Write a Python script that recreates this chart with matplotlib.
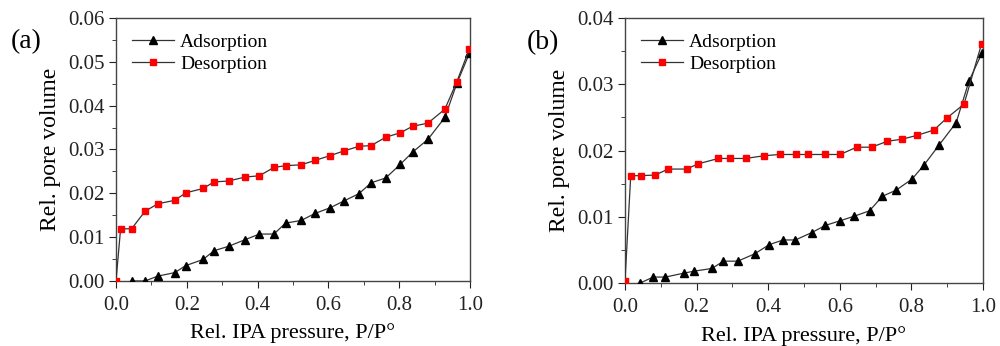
import matplotlib
matplotlib.use('Agg')
import matplotlib.pyplot as plt
from matplotlib.ticker import MultipleLocator, FormatStrFormatter

plt.rcParams['font.family'] = ['Liberation Serif', 'DejaVu Serif']

# panel (a)
a_ads_x = [0.046, 0.082, 0.118, 0.166, 0.197, 0.246, 0.277, 0.318, 0.364, 0.405, 0.446, 0.479,
           0.523, 0.562, 0.605, 0.645, 0.686, 0.721, 0.762, 0.803, 0.838, 0.881, 0.929, 0.963, 0.998]
a_ads_y = [0.0, 0.0, 0.0011, 0.0019, 0.0035, 0.0049, 0.0069, 0.0079, 0.0094, 0.0107, 0.0107, 0.0132,
           0.0138, 0.0154, 0.0167, 0.0183, 0.0199, 0.0224, 0.0235, 0.0266, 0.0294, 0.0323, 0.0373, 0.0451, 0.0519]
a_des_x = [0.0, 0.013, 0.044, 0.082, 0.118, 0.166, 0.197, 0.246, 0.277, 0.318, 0.364, 0.405, 0.446,
           0.479, 0.523, 0.562, 0.605, 0.645, 0.686, 0.721, 0.762, 0.803, 0.838, 0.881, 0.929, 0.963, 0.998]
a_des_y = [0.0, 0.0119, 0.0119, 0.0159, 0.0176, 0.0184, 0.0201, 0.0211, 0.0226, 0.0228, 0.0237, 0.0240,
           0.0259, 0.0263, 0.0265, 0.0275, 0.0286, 0.0297, 0.0307, 0.0309, 0.0328, 0.0338, 0.0353, 0.0360,
           0.0392, 0.0455, 0.0529]

# panel (b)
b_ads_x = [0.042, 0.079, 0.113, 0.165, 0.194, 0.243, 0.275, 0.315, 0.362, 0.403, 0.442, 0.476, 0.521,
           0.560, 0.601, 0.641, 0.683, 0.719, 0.757, 0.802, 0.835, 0.877, 0.925, 0.961, 0.997]
b_ads_y = [0.0, 0.0009, 0.0009, 0.0015, 0.0018, 0.0022, 0.0033, 0.0033, 0.0044, 0.0058, 0.0065, 0.0065,
           0.0076, 0.0087, 0.0094, 0.0101, 0.0109, 0.0131, 0.0140, 0.0157, 0.0178, 0.0208, 0.0242, 0.0305, 0.0347]
b_des_x = [0.0, 0.016, 0.044, 0.084, 0.121, 0.172, 0.205, 0.261, 0.293, 0.337, 0.387, 0.432, 0.478, 0.510,
           0.560, 0.601, 0.647, 0.689, 0.733, 0.773, 0.817, 0.863, 0.899, 0.947, 0.996]
b_des_y = [0.0003, 0.0162, 0.0162, 0.0163, 0.0172, 0.0172, 0.0180, 0.0188, 0.0188, 0.0188, 0.0192, 0.0194,
           0.0194, 0.0194, 0.0194, 0.0194, 0.0205, 0.0205, 0.0214, 0.0217, 0.0223, 0.0231, 0.0249, 0.0270, 0.0361]

panels = [
    ('(a)', a_ads_x, a_ads_y, a_des_x, a_des_y, 0.06, [0.116, 0.188, 0.354, 0.760], 0.026, 0.880),
    ('(b)', b_ads_x, b_ads_y, b_des_x, b_des_y, 0.04, [0.625, 0.182, 0.358, 0.766], 0.543, 0.877),
]

fig = plt.figure(figsize=(10, 3.46), dpi=100)

for tag, ax_x, ax_y, de_x, de_y, ymax, rect, tag_x, tag_y in panels:
    ax = fig.add_axes(rect)
    line_c = '#333333'
    ax.plot(ax_x, ax_y, color=line_c, lw=0.9, marker='^', ms=5.5,
            mfc='black', mec='black', label='Adsorption', zorder=3)
    ax.plot(de_x, de_y, color=line_c, lw=0.9, marker='s', ms=4.3,
            mfc='red', mec='red', label='Desorption', zorder=4)
    ax.set_xlim(0, 1.0)
    ax.set_ylim(0, ymax)
    ax.xaxis.set_major_locator(MultipleLocator(0.2))
    ax.xaxis.set_minor_locator(MultipleLocator(0.1))
    ax.yaxis.set_major_locator(MultipleLocator(0.01))
    ax.yaxis.set_minor_locator(MultipleLocator(0.005))
    ax.xaxis.set_major_formatter(FormatStrFormatter('%.1f'))
    ax.yaxis.set_major_formatter(FormatStrFormatter('%.2f'))
    ax.tick_params(which='both', direction='out', top=False, right=False,
                   labelsize=15, colors='#222222')
    ax.tick_params(axis='x', which='major', pad=6)
    ax.tick_params(axis='y', which='major', pad=3)
    ax.tick_params(which='major', length=5)
    ax.tick_params(which='minor', length=3)
    for s in ax.spines.values():
        s.set_color('#444444')
        s.set_linewidth(1.0)
    ax.set_xlabel('Rel. IPA pressure, P/P°', fontsize=16, labelpad=6)
    ax.set_ylabel('Rel. pore volume', fontsize=17, labelpad=5)
    ax.legend(loc='upper left', frameon=False, fontsize=14, handlelength=2.2,
              borderaxespad=0.4, labelspacing=0.2, handletextpad=0.3,
              borderpad=0.4)
    fig.text(tag_x, tag_y, tag, fontsize=20, ha='center', va='center')

fig.savefig('out.png', dpi=100)
